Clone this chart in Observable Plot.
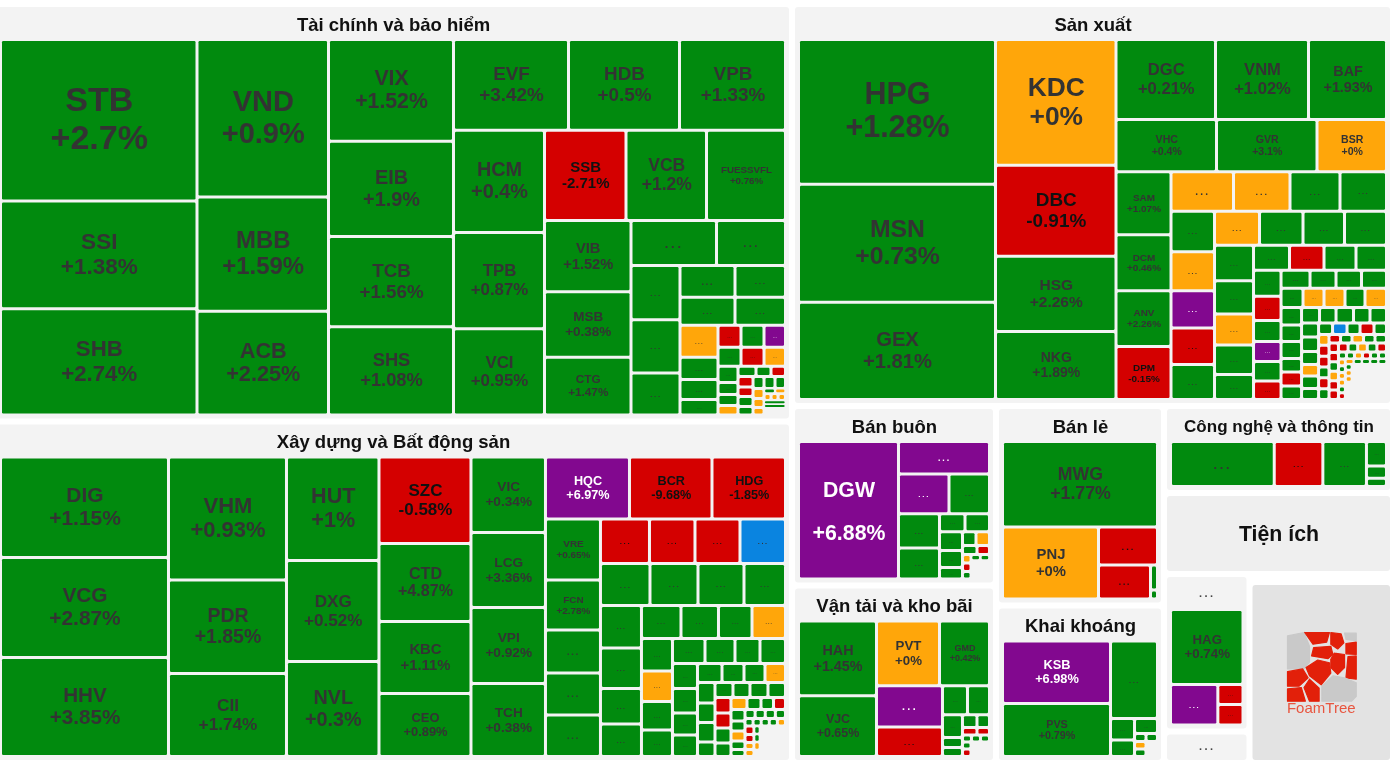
<!DOCTYPE html>
<html><head><meta charset="utf-8">
<script src="https://cdn.jsdelivr.net/npm/d3@7"></script>
<script src="https://cdn.jsdelivr.net/npm/@observablehq/plot@0.6"></script>
<style>
html,body{margin:0;padding:0;background:#fff;overflow:hidden}
svg{display:block;filter:blur(0.5px)}
.dots text{letter-spacing:.22em}
</style></head><body><div id="chart"></div>
<script>
// Sector order, relative areas and how they peel into columns (c) / rows (r)
const sectorNames = ["Tài chính và bảo hiểm","Xây dựng và Bất động sản","Sản xuất","Bán buôn","Vận tải và kho bãi","Bán lẻ","Khai khoáng","Công nghệ và thông tin","Tiện ích","...","...","",""];
const sectorWeights = [333165,272517,241602,36618,36210,33516,26460,19923,18549,13466,2693,1148,25974];
const sectorStrips = ["c2","r1","c2","c2","r1","r1","c2","c2"];

// Tài chính và bảo hiểm
const finTickers = ["STB","SSI","SHB","VND","MBB","ACB","VIX","EIB","TCB","SHS","EVF","HDB","VPB","HCM","TPB","VCI","SSB","VCB","FUESSVFL","VIB","MSB","CTG"];
const finPct = ["+2.7%","+1.38%","+2.74%","+0.9%","+1.59%","+2.25%","+1.52%","+1.9%","+1.56%","+1.08%","+3.42%","+0.5%","+1.33%","+0.4%","+0.87%","+0.95%","-2.71%","+1.2%","+0.76%","+1.52%","+0.38%","+1.47%"];
const finWeights = [31637,21124,20829,20646,14991,13610,12688,11875,11250,11000,10408,10046,9593,9282,8736,7826,7335,7245,7110,6142,5666,4974,3848,3105,2646,2597,2058,1733,1591,1540,1414,1216,836,760,589,506,506,473,437,437,408,320,240,220,190,180,150,145,158,143,150,128,132,132,126,110,99,83,55,52,49,49,52,80,80,152];
const finColors = "ggggggggggggggggrggggg"+"ggggggggg"+"oggg"+"rgp"+"gro"+"gggo"+"ggr"+"rrgg"+"ggg"+"ooo"+"go"+"ooo"+"gg_";
const finStrips = ["c3","c3","c4","r3","c3","r3","c3","r2","c3","r2","r2","c4","r3","r3","c4","r3","c4","r3","c3","r2","r3","c3"];

// Xây dựng và Bất động sản
const xdTickers = ["DIG","VCG","HHV","VHM","PDR","CII","HUT","DXG","NVL","SZC","CTD","KBC","CEO","VIC","LCG","VPI","TCH","HQC","BCR","HDG","VRE","FCN"];
const xdPct = ["+1.15%","+2.87%","+3.85%","+0.93%","+1.85%","+1.74%","+1%","+0.52%","+0.3%","-0.58%","+4.87%","+1.11%","+0.89%","+0.34%","+3.36%","+0.92%","+0.38%","+6.97%","-9.68%","-1.85%","+0.65%","+2.78%"];
const xdWeights = [16884,16800,16632,14514,11033,9794,9574,9343,8788,7958,7176,6624,5796,5625,5588,5662,5439,5208,5115,4557,3355,2750,2365,2310,2283,2181,2025,2003,2025,2079,2016,1932,1743,1743,1661,1456,1333,1304,1238,1106,1106,1008,946,884,822,813,750,625,638,625,613,550,538,466,418,399,390,359,341,341,254,270,255,270,263,248,240,240,216,192,168,150,144,161,140,140,119,98,91,91,91,91,61,61,61,61,61,77,72,63,63,48,48,48,39,778];
const xdColors = "ggggggggg"+"rggg"+"gggg"+"prr"+"ggggg"+"rrrb"+"gggg"+"gggg"+"gggo"+"gogg"+"gggg"+"gggg"+"gggo"+"gggg"+"gggg"+"rrgg"+"oggr"+"ggogg"+"gggg"+"ggggo"+"rroo"+"ggo_"+"_";
const xdStrips = ["c3","c3","c3","c4","c4","r3","c5","r4","r4","c4","r4","c4","r4","c4","r4","c4","r4","c4","r4","c5","r4","r5","c4","c4","c1"];

// Sản xuất
const sxTickers = ["HPG","MSN","GEX","KDC","DBC","HSG","NKG","DGC","VNM","BAF","VHC","GVR","BSR","SAM","DCM","ANV","DPM"];
const sxPct = ["+1.28%","+0.73%","+1.81%","+0%","-0.91%","+2.26%","+1.89%","+0.21%","+1.02%","+1.93%","+0.4%","+3.1%","+0%","+1.07%","+0.46%","+2.26%","-0.15%"];
const sxWeights = [28467,23246,19109,15123,10966,9038,8194,7960,7440,6240,5226,5226,3614,3465,3080,3053,2915,2469,2232,1975,1837,1762,1697,1610,1588,1523,1530,1479,1411,1428,1385,1287,1209,1151,975,900,863,800,763,715,660,578,550,536,509,522,468,459,450,418,399,399,380,409,359,338,349,277,287,277,279,256,271,256,256,238,247,221,196,213,187,161,167,150,161,144,113,113,113,113,113,113,98,98,98,98,98,89,89,89,89,89,89,86,86,86,86,86,56,56,56,56,56,56,47,47,47,47,47,47,41,41,41,41,41,39,39,39,114,1225];
const sxColors = "ggg"+"orgg"+"ggg"+"ggo"+"gggr"+"oogg"+"gopr"+"g"+"oggg"+"ggogg"+"grgg"+"grgpgr"+"gggg"+"googo"+"ggggrg"+"ggggg"+"gggogg"+"gbgrg"+"orrgrg"+"rgogg"+"rrgorr"+"rgogr"+"ggorgg"+"ogoogr"+"ogggg"+"goo_"+"_";
const sxStrips = ["c3","c4","r3","r3","c4","r4","c5","r4","c5","r4","c6","r4","r5","c6","r5","c6","r5","c6","r5","c6","r5","r6","c6","r5","c4","c1"];

// Bán buôn
const bbTickers = ["DGW"];
const bbPct = ["+6.88%"];
const bbWeights = [13800,2958,2020,1620,1415,1271,459,441,437,391,265,189,189,131,113,72,72,64,56,55,342];
const bbColors = "ppp"+"g"+"gg"+"gg"+"ggg"+"go"+"gr"+"org"+"gg_";
const bbStrips = ["c1","r1","r2","c2","r2","c3","r2","r2","c3","r2","c1"];

// Vận tải và kho bãi
const vtTickers = ["HAH","VJC","PVT","GMD"];
const vtPct = ["+1.45%","+0.65%","+0%","+0.42%"];
const vtWeights = [5850,4758,4095,3250,2739,1947,725,638,460,200,180,189,163,109,94,63,63,63,60,64,268];
const vtColors = "gg"+"og"+"pr"+"gg"+"ggg"+"gg"+"rr"+"ggg"+"gr_";
const vtStrips = ["c2","r2","c2","r2","c3","r2","r2","r3","c2","c1"];

// Bán lẻ
const blTickers = ["MWG","PNJ"];
const blPct = ["+1.77%","+0%"];
const blWeights = [13253,6912,2242,1768,175,63];
const blColors = "gorrgg";
const blStrips = ["r1","c1","r1","c1","c2"];

// Khai khoáng
const kkTickers = ["KSB","PVS"];
const kkPct = ["+6.98%","+0.79%"];
const kkWeights = [6750,5724,3643,516,396,345,92,92,86,86,172];
const kkColors = "pg"+"g"+"gg"+"g"+"gg"+"og"+"_";
const kkStrips = ["c2","r1","c2","r1","r2","c2","c1"];

// Công nghệ và thông tin
const cnWeights = [4554,2134,1914,480,240,160];
const cnColors = "grgggg";
const cnStrips = ["c1","c1","c1","c3"];

// Panel with HAG
const hagTickers = ["HAG"];
const hagPct = ["+0.74%"];
const hagWeights = [5400,1904,500,512];
const hagColors = "gprr";
const hagStrips = ["r1","c1","c2"];

const sectorCells = [
  [finTickers,finPct,finWeights,finColors,finStrips],
  [xdTickers,xdPct,xdWeights,xdColors,xdStrips],
  [sxTickers,sxPct,sxWeights,sxColors,sxStrips],
  [bbTickers,bbPct,bbWeights,bbColors,bbStrips],
  [vtTickers,vtPct,vtWeights,vtColors,vtStrips],
  [blTickers,blPct,blWeights,blColors,blStrips],
  [kkTickers,kkPct,kkWeights,kkColors,kkStrips],
  [[],[],cnWeights,cnColors,cnStrips],
  null,
  [hagTickers,hagPct,hagWeights,hagColors,hagStrips],
  null,null,null
];

const stateCodes = ["g","r","o","p","b"];
const stateFill = ["#018a0e","#d40000","#ffa60a","#82088f","#0a84e0"];
const stateInk = ["#333333","#111111","#333333","#ffffff","#333333"];

// FoamTree logo polygons in the unit square of the logo
const logoGray = "#c9c9c9", logoRed = "#e2200a";
const logoShapes = [
 [logoGray,[[0,.05],[.24,0],[.32,.2],[.32,.43],[.24,.53],[0,.53]]],
 [logoRed,[[.25,0],[.61,0],[.57,.14],[.37,.17]]],
 [logoRed,[[.63,0],[.78,.02],[.82,.15],[.73,.24],[.63,.17]]],
 [logoGray,[[.83,.01],[1,.01],[1,.12],[.85,.1]]],
 [logoRed,[[.85,.16],[1,.14],[1,.32],[.85,.31]]],
 [logoRed,[[.38,.22],[.63,.2],[.66,.32],[.59,.38],[.35,.34]]],
 [logoRed,[[.68,.3],[.83,.32],[.83,.51],[.73,.61],[.63,.51],[.63,.39]]],
 [logoRed,[[.88,.35],[1,.34],[1,.68],[.85,.66]]],
 [logoRed,[[.27,.51],[.44,.4],[.61,.44],[.63,.59],[.49,.76],[.32,.63]]],
 [logoRed,[[0,.57],[.22,.53],[.3,.66],[.17,.78],[0,.78]]],
 [logoRed,[[.32,.68],[.46,.81],[.46,1],[.32,1],[.24,.8]]],
 [logoRed,[[0,.82],[.2,.8],[.26,1],[0,1]]],
 [logoGray,[[.5,.78],[.66,.63],[.83,.66],[1,.73],[1,.93],[.93,1],[.5,1]]]
];

// Peel strips off a rectangle: columns from the left, rows from the top
function peel(box, weights, strips){
  let [x0,y0,x1,y1] = box, i = 0; const out = [];
  for (const s of strips){
    const col = s[0]==="c", n = +s.slice(1), part = weights.slice(i,i+n);
    const rem = d3.sum(weights.slice(i)), tot = d3.sum(part);
    if (col){
      const t = (x1-x0)*tot/rem; let y = y0;
      for (const w of part){ const h = (y1-y0)*w/tot; out.push([x0,y,x0+t,y+h]); y += h; }
      x0 += t;
    } else {
      const t = (y1-y0)*tot/rem; let x = x0;
      for (const w of part){ const d = (x1-x0)*w/tot; out.push([x,y0,x+d,y0+t]); x += d; }
      y0 += t;
    }
    i += n;
  }
  return out;
}

const sectors = peel([-6,4,1393,763], sectorWeights, sectorStrips).map(([a,b,c,d],i)=>({
  name: sectorNames[i], x1:a+3, y1:b+3, x2:c-3, y2:d-3, i
}));
const panels = sectors.filter(p=>p.i!==11);
const logoP = sectors[12];

const cells = [];
sectors.forEach((p,si)=>{
  const def = sectorCells[si]; if(!def) return;
  const [tk,pc,wt,cl,st] = def;
  peel([p.x1+3.5,p.y1+32.5,p.x2-3.5,p.y2-3.5], wt, st).forEach(([a,b,c,d],i)=>{
    const code = cl[i]; if(code==="_"||code===undefined) return;
    const w=c-a,h=d-b,ins=Math.min(1.5,Math.min(w,h)*.22);
    const k=stateCodes.indexOf(code);
    cells.push({x1:a+ins,y1:b+ins,x2:c-ins,y2:d-ins,w:w-2*ins,h:h-2*ins,fill:stateFill[k],ink:stateInk[k],ticker:tk[i],pct:pc[i]});
  });
});

const named = cells.filter(d=>d.ticker);
named.forEach(d=>{
  const chars=Math.max(d.ticker.length*1.15,d.pct.length);
  d.fs=Math.min(d.h*.215,d.w*.72/((chars+.5)*.58));
  d.label=d.ticker+"\n"+d.pct;
});
const plain = named.filter(d=>d.ticker!=="DGW");
const wide = named.filter(d=>d.ticker==="DGW");
const dotted = cells.filter(d=>!d.ticker);
dotted.forEach(d=>{d.fs=Math.min(d.h*.3,d.w*.17,13)});
const dottedShown = dotted.filter(d=>d.fs>=2.5);

const logoPts = logoShapes.flatMap(([c,pts],i)=>pts.concat([pts[0]]).map(([u,v])=>({
  i,c,
  x:1287+u*(logoP.x2-logoP.x1)*.5,
  y:logoP.y1+47+v*(logoP.x2-logoP.x1)*.5
})));

const titled = panels.filter(p=>p.name && p.i!==8 && p.i!==10);
const font = "Liberation Sans";
const plot = Plot.plot({
  width:1390,height:763,margin:0,
  x:{domain:[0,1390],range:[0,1390],axis:null},
  y:{domain:[0,763],range:[0,763],axis:null},
  marks:[
    Plot.rect(panels,{x1:"x1",y1:"y1",x2:"x2",y2:"y2",fill:d=>d.i===12?"#e3e3e3":d.i===8?"#efefef":"#f3f3f3",rx:3}),
    Plot.rect(cells,{x1:"x1",y1:"y1",x2:"x2",y2:"y2",fill:"fill",rx:1.2}),
    Plot.text(plain,{x:d=>(d.x1+d.x2)/2,y:d=>(d.y1+d.y2)/2-d.fs*.08,text:"label",fill:"ink",fontSize:"fs",fontFamily:font,fontWeight:"bold",lineHeight:1.1}),
    Plot.text(wide,{x:d=>(d.x1+d.x2)/2,y:d=>(d.y1+d.y2)/2-d.fs*.33,text:"label",fill:"ink",fontSize:d=>d.fs*1.15,fontFamily:font,fontWeight:"bold",lineHeight:2}),
    Plot.text(dottedShown,{x:d=>(d.x1+d.x2)/2,y:d=>(d.y1+d.y2)/2,text:()=>"...",fill:"ink",fontSize:"fs",fontFamily:font,fontWeight:"bold",className:"dots"}),
    Plot.text(titled.filter(d=>d.name!=="..."),{x:d=>(d.x1+d.x2)/2,y:d=>d.y1+17.5,text:"name",fill:"#111",fontSize:d=>d.i===7?17:18.5,fontFamily:font,fontWeight:"bold"}),
    Plot.text(sectors.filter(d=>d.i===8),{x:d=>(d.x1+d.x2)/2,y:d=>(d.y1+d.y2)/2,text:"name",fill:"#111",fontSize:21.3,fontFamily:font,fontWeight:"bold"}),
    Plot.text(sectors.filter(d=>d.i===9),{x:d=>(d.x1+d.x2)/2,y:d=>d.y1+16,text:"name",fill:"#444",fontSize:11,fontFamily:font,fontWeight:"bold",className:"dots"}),
    Plot.text(sectors.filter(d=>d.i===10),{x:d=>(d.x1+d.x2)/2,y:d=>(d.y1+d.y2)/2-1,text:"name",fill:"#444",fontSize:11,fontFamily:font,fontWeight:"bold",className:"dots"}),
    Plot.line(logoPts,{x:"x",y:"y",z:"i",fill:"c",stroke:"c",strokeWidth:1.2,curve:"linear"}),
    Plot.text([logoP],{x:d=>(d.x1+d.x2)/2-.5,y:d=>d.y1+123,text:()=>"FoamTree",fill:"#e8553f",fontSize:15,fontFamily:font})
  ]
});
document.getElementById("chart").append(plot);
</script></body></html>
